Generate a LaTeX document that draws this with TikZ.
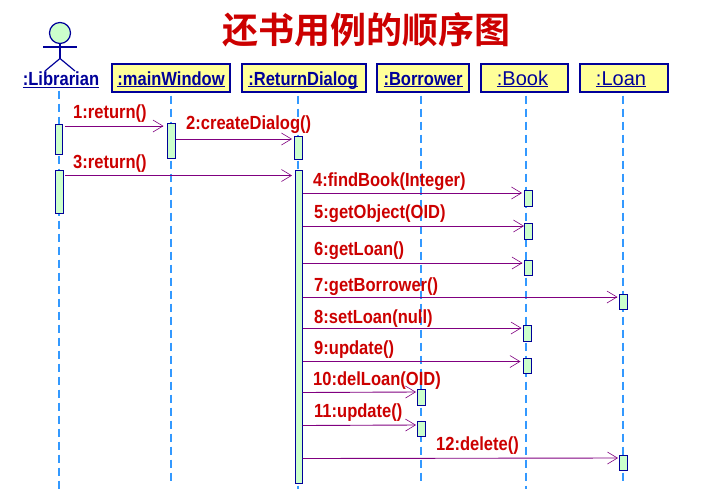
\documentclass[tikz,border=0pt]{standalone}
\usepackage{fontspec}
\setmainfont{Liberation Sans}
\newfontfamily\cjkfont{Noto Sans CJK SC}[BoldFont={Noto Sans CJK SC Bold}]
\newfontfamily\narrowfont{Liberation Sans}[FakeStretch=0.87]
\usetikzlibrary{arrows.meta,backgrounds}
\definecolor{navyline}{HTML}{000099}
\definecolor{paleyellow}{HTML}{FFFF99}
\definecolor{palegreen}{HTML}{CCFFCC}
\definecolor{lifeblue}{HTML}{3399FF}
\definecolor{msgpurple}{HTML}{800080}
\definecolor{labelred}{HTML}{CC0000}
\newcommand{\ulbox}[1]{\underline{\raisebox{0pt}[\height][0pt]{#1}}}
\tikzset{
  objbox/.style={draw=navyline,line width=1.6pt,fill=paleyellow,inner sep=0pt,outer sep=0pt,text=navyline,text height=15pt,text depth=1pt},
  boldname/.style={font=\narrowfont\fontsize{19}{20}\selectfont\bfseries},
  plainname/.style={font=\fontsize{20}{22}\selectfont},
  actbox/.style={draw=navyline,line width=0.9pt,fill=palegreen,inner sep=0pt,outer sep=0pt},
  lifeline/.style={draw=lifeblue,line width=2pt,dash pattern=on 8pt off 5pt,shorten <=3.5pt},
  msg/.style={draw=msgpurple,line width=0.9pt,-{Straight Barb[length=10pt,width=12pt,line width=0.6pt]}},
  msglabel/.style={text=labelred,anchor=west,inner sep=0pt,font=\narrowfont\fontsize{19}{20}\selectfont\bfseries},
  actorline/.style={draw=navyline,line width=1.2pt}
}
\newcommand{\activation}[5]{\node[actbox,minimum width={(#4-#2)*1pt},minimum height={(#5-#3)*1pt}] (#1) at ({(#2+#4)/2},{(#3+#5)/2}) {};}
\newcommand{\objectbox}[6]{\node[objbox,#6,minimum width={(#4-#2)*1pt},minimum height=28pt] (#1) at ({(#2+#4)/2},78) {#5};}
\begin{document}
\begin{tikzpicture}[x=1pt,y=-1pt]
\useasboundingbox (0,0) rectangle (711,493);
\node[text=labelred,inner sep=0pt,font=\cjkfont\bfseries\fontsize{36}{38}\selectfont] (title) at (366,30) {还书用例的顺序图};
% actor
\node[circle,draw=navyline,line width=1.2pt,fill=palegreen,inner sep=0pt,outer sep=0pt,minimum size=21pt] (head) at (60,33) {};
\coordinate (armL) at (43,47);
\coordinate (armR) at (77,47);
\coordinate (hip) at (60,58.5);
\coordinate (footL) at (45,71);
\coordinate (footR) at (75,71);
\draw[actorline] (head.south) -- (hip);
\draw[actorline] (armL) -- (armR);
\draw[actorline] (footL) -- (hip) -- (footR);
\node[boldname,text=navyline,inner sep=0pt,text height=15pt,text depth=1pt] (lib) at (61,78.5) {\ulbox{:Librarian}};
% objects
\objectbox{mw}{112}{64}{230}{\ulbox{:mainWindow}}{boldname}
\objectbox{rd}{242}{64}{366}{\ulbox{:ReturnDialog}\hspace*{2pt}}{boldname}
\objectbox{bw}{377}{64}{469}{\ulbox{:Borrower}}{boldname}
\objectbox{bk}{481}{64}{568}{\ulbox{:Book}\hspace*{4pt}}{plainname}
\objectbox{ln}{580}{64}{668}{\ulbox{:Loan}\hspace*{6pt}}{plainname}
% lifeline ends
\coordinate (libEnd) at (59,489);
\coordinate (mwEnd) at (171,483);
\coordinate (rdEnd) at (298,489);
\coordinate (bwEnd) at (421,482);
\coordinate (bkEnd) at (526,489);
\coordinate (lnEnd) at (623,482);
% activations
\activation{la1}{55.5}{124}{62.5}{154}
\activation{la2}{55.5}{170.5}{63}{213}
\activation{ma1}{167.5}{123.5}{175.5}{158}
\activation{ra1}{294.5}{136.5}{302.5}{159.5}
\activation{ra2}{295.5}{170.5}{302.5}{483}
\activation{ka1}{524.5}{190.5}{532.5}{206.5}
\activation{ka2}{524.5}{223}{532.5}{239}
\activation{ka3}{524}{260}{532}{275}
\activation{na1}{619.5}{294}{627.5}{309.5}
\activation{ka4}{523.5}{325}{531}{341}
\activation{ka5}{523.5}{358}{531}{373.5}
\activation{wa1}{417.5}{389.5}{425.5}{405.5}
\activation{wa2}{417.5}{421.5}{425.5}{436.5}
\activation{na2}{619.5}{455.5}{627.5}{470.5}
\begin{scope}[on background layer]
\fill[white] (0,0) rectangle (711,493);
\draw[lifeline,shorten <=4pt] (libEnd |- lib.south) -- (libEnd);
\draw[lifeline] (mwEnd |- mw.south) -- (mwEnd);
\draw[lifeline] (rdEnd |- rd.south) -- (rdEnd);
\draw[lifeline] (bwEnd |- bw.south) -- (bwEnd);
\draw[lifeline] (bkEnd |- bk.south) -- (bkEnd);
\draw[lifeline] (lnEnd |- ln.south) -- (lnEnd);
\end{scope}
% messages
\draw[msg] ([xshift=2.5pt,yshift=-2pt]la1.north east) -- ([xshift=-4pt,yshift=-2.5pt]ma1.north west);
\draw[msg] ([yshift=-15.5pt]ma1.north east) -- ([xshift=-2.5pt,yshift=-2.5pt]ra1.north west);
\draw[msg] ([xshift=2pt,yshift=-5pt]la2.north east) -- ([xshift=-3.5pt,yshift=-5pt]ra2.north west);
\draw[msg] ([yshift=-22.5pt]ra2.north east) -- ([xshift=-2.5pt,yshift=-2.5pt]ka1.north west);
\draw[msg] ([yshift=-55.5pt]ra2.north east) -- ([xshift=-0.5pt,yshift=-3pt]ka2.north west);
\draw[msg] ([yshift=-92.5pt]ra2.north east) -- ([xshift=-1.5pt,yshift=-3pt]ka3.north west);
\draw[msg] ([yshift=-126.5pt]ra2.north east) -- ([xshift=-2pt,yshift=-3pt]na1.north west);
\draw[msg] ([yshift=-157.5pt]ra2.north east) -- ([xshift=-2pt,yshift=-3pt]ka4.north west);
\draw[msg] ([yshift=-191pt]ra2.north east) -- ([xshift=-3pt,yshift=-3.5pt]ka5.north west);
\draw[msg] ([yshift=-222pt]ra2.north east) -- ([xshift=-1.5pt,yshift=-2.5pt]wa1.north west);
\draw[msg] ([yshift=-255pt]ra2.north east) -- ([xshift=-1.5pt,yshift=-3.5pt]wa2.north west);
\draw[msg] ([yshift=-288pt]ra2.north east) -- ([xshift=-1.5pt,yshift=-2.5pt]na2.north west);
% labels
\node[msglabel] (t1) at (73,113.5) {1:return()};
\node[msglabel] (t2) at (186,124.5) {2:createDialog()};
\node[msglabel] (t3) at (73,163.5) {3:return()};
\node[msglabel] (t4) at (313,181.5) {4:findBook(Integer)};
\node[msglabel] (t5) at (314,213.5) {5:getObject(OID)};
\node[msglabel] (t6) at (314,250.5) {6:getLoan()};
\node[msglabel] (t7) at (314,286.5) {7:getBorrower()};
\node[msglabel] (t8) at (314,318.5) {8:setLoan(null)};
\node[msglabel] (t9) at (314,349.5) {9:update()};
\node[msglabel] (t10) at (313,380.5) {10:delLoan(OID)};
\node[msglabel] (t11) at (314,412.5) {11:update()};
\node[msglabel] (t12) at (436,445.5) {12:delete()};
\end{tikzpicture}
\end{document}
